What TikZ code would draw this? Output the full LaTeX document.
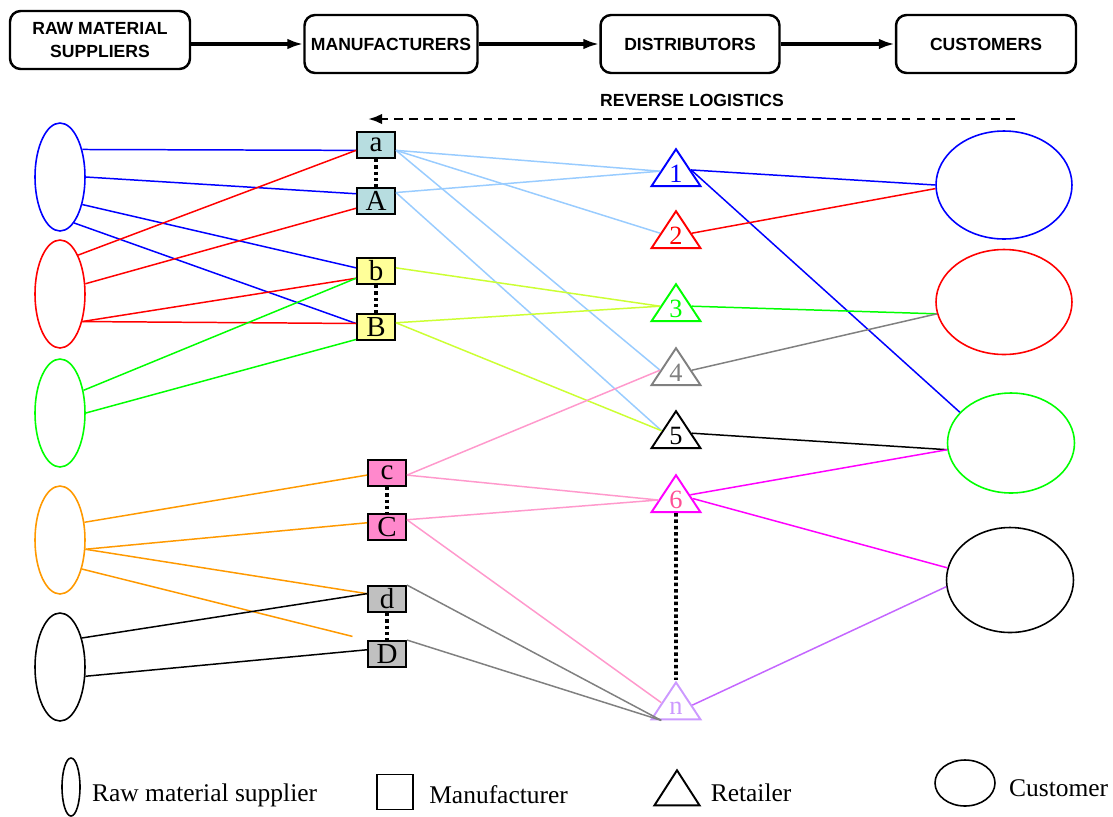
\documentclass[tikz,border=0pt]{standalone}
\usepackage{fontspec}
\setmainfont{Liberation Serif}
\newfontfamily\headfont{Liberation Sans}
\usetikzlibrary{shapes.geometric,positioning,arrows.meta}

\definecolor{rblue}{RGB}{0,0,255}
\definecolor{rred}{RGB}{255,0,0}
\definecolor{rgreen}{RGB}{0,255,0}
\definecolor{rorange}{RGB}{255,153,0}
\definecolor{rgray}{RGB}{128,128,128}
\definecolor{rmagenta}{RGB}{255,0,255}
\definecolor{rpurple}{RGB}{204,153,255}
\definecolor{rviolet}{RGB}{196,102,255}
\definecolor{mlblue}{RGB}{153,204,255}
\definecolor{myellow}{RGB}{204,255,51}
\definecolor{mpink}{RGB}{255,153,204}
\definecolor{fillA}{RGB}{183,221,224}
\definecolor{fillB}{RGB}{255,255,153}
\definecolor{fillC}{RGB}{255,136,204}
\definecolor{fillD}{RGB}{192,192,192}
\definecolor{sixtext}{RGB}{255,80,150}

\begin{document}
\begin{tikzpicture}[x=0.02cm, y=-0.02cm,
  headbox/.style={draw, rounded corners=6pt, line width=1.4pt, minimum height=1.16cm, align=center, font=\headfont\bfseries\fontsize{10}{13.5}\selectfont},
  flow/.style={line width=2.2pt, -{Latex[length=9pt,width=6pt]}},
  supplier/.style={draw=#1, ellipse, minimum width=1cm, minimum height=2.16cm, inner sep=0pt, line width=0.9pt},
  manuf/.style={draw, fill=#1, minimum width=0.76cm, minimum height=0.52cm, inner sep=0pt, line width=1.1pt, font=\fontsize{16.5}{16.5}\selectfont},
  retailer/.style={draw=#1, text=#1, isosceles triangle, shape border rotate=90, isosceles triangle stretches, minimum width=0.98cm, minimum height=0.74cm, inner sep=0pt, line width=1.1pt, font=\fontsize{15}{15}\selectfont},
  customer/.style={draw=#1, ellipse, minimum width=2.72cm, minimum height=2.16cm, inner sep=0pt, line width=0.9pt},
  link/.style={line width=0.85pt},
  dotlink/.style={line width=2pt, dash pattern=on 2pt off 1.6pt},
  legtext/.style={inner sep=0pt, font=\fontsize{14.5}{16}\selectfont}]
\useasboundingbox (0,0) rectangle (1113,816);

% top row
\node[headbox, minimum width=3.6cm] (h1) at (100,40) {RAW MATERIAL\\SUPPLIERS};
\node[headbox, minimum width=3.46cm] (h2) at (391,44) {MANUFACTURERS};
\node[headbox, minimum width=3.58cm] (h3) at (690,44) {DISTRIBUTORS};
\node[headbox, minimum width=3.6cm] (h4) at (986,44) {CUSTOMERS};
\draw[flow] (h1.east |- h2.west) -- (h2.west);
\draw[flow] (h2) -- (h3);
\draw[flow] (h3) -- (h4);

\node[font=\headfont\bfseries\fontsize{10}{12}\selectfont] (rl) at (692,100) {REVERSE LOGISTICS};
\coordinate (rlA) at (1015,119);
\coordinate (rlB) at (368,119);
\draw[line width=1.5pt, dash pattern=on 5pt off 3.5pt, -{Latex[length=8pt,width=6pt]}] (rlA) -- (rlB);

% suppliers
\node[supplier=rblue] (s1) at (60,177) {};
\node[supplier=rred] (s2) at (60,294) {};
\node[supplier=rgreen] (s3) at (60,413) {};
\node[supplier=rorange] (s4) at (60,540) {};
\node[supplier=black] (s5) at (60,667) {};

% manufacturers
\node[manuf=fillA] (ma) at (376,145) {a};
\node[manuf=fillA] (mA) at (376,201) {A};
\node[manuf=fillB] (mb) at (376,271) {b};
\node[manuf=fillB] (mB) at (376,327) {B};
\node[manuf=fillC] (mc) at (387,473) {c};
\node[manuf=fillC] (mC) at (387,527) {C};
\node[manuf=fillD] (md) at (387,599) {d};
\node[manuf=fillD] (mD) at (387,654) {D};

% retailers
\node[retailer=rblue] (t1) at (676,174) {1};
\node[retailer=rred] (t2) at (676,236) {2};
\node[retailer=rgreen] (t3) at (676,309) {3};
\node[retailer=rgray] (t4) at (676,373) {4};
\node[retailer=black] (t5) at (676,436) {5};
\node[retailer=rmagenta, text=sixtext] (t6) at (676,500) {6};
\node[retailer=rpurple] (tn) at (676,708) {n};

% customers
\node[customer=rblue] (c1) at (1004,185) {};
\node[customer=rred, minimum height=2.1cm] (c2) at (1004,302) {};
\node[customer=rgreen, minimum width=2.54cm, minimum height=2cm] (c3) at (1011,443) {};
\node[customer=black, minimum width=2.54cm, minimum height=2.1cm] (c4) at (1010,580) {};

\foreach \u/\l in {ma/mA,mb/mB,mc/mC,md/mD,t6/tn}
  \draw[dotlink] (\u.south) -- (\l.north);

% suppliers to manufacturers
\foreach \a/\b in {s1.51/ma.195, s1.0/mA.160, s1.-51/mb.171, s1.-73/mB.170}
  \draw[link, rblue] (\a) -- (\b);
\foreach \a/\b in {s2.65/ma.195, s2.22/mA.200, s2.-51/mb.200, s2.-51/mB.170}
  \draw[link, rred] (\a) -- (\b);
\foreach \a/\b in {s3.44/mb.200, s3.0/mB.212}
  \draw[link, rgreen] (\a) -- (\b);
\foreach \a/\b in {s4.36/mc.186, s4.-20/mC.168, s4.-20/md.165}
  \draw[link, rorange] (\a) -- (\b);
\draw[link, rorange, shorten >=0.3cm] (s4.-53) -- (mD.north west);
\foreach \a/\b in {s5.53/md.165, s5.-20/mD.168}
  \draw[link] (\a) -- (\b);

% manufacturers to retailers
\foreach \a/\b in {ma.-15/t1.170, ma.-15/t2.170, ma.-15/t4.170, mA.23/t1.170, mA.23/t5.160}
  \draw[link, mlblue] (\a) -- (\b);
\foreach \a/\b in {mb.9/t3.170, mB.12/t3.170, mB.12/t5.160}
  \draw[link, myellow] (\a) -- (\b);
\foreach \a/\b in {mc.-6/t4.170, mc.-6/t6.180, mC.20/t6.180, mC.20/tn.160}
  \draw[link, mpink] (\a) -- (\b);
\foreach \a/\b in {md.north east/tn.220, mD.north east/tn.220}
  \draw[link, rgray] (\a) -- (\b);

% retailers to customers
\draw[link, rblue] (t1.15) -- (c1.west);
\draw[link, rblue] (t1.15) -- (c3.149);
\draw[link, rred] (t2.10) -- (c1.183);
\draw[link, rgreen] (t3.10) -- (c2.190);
\draw[link, rgray] (t4.10) -- (c2.190);
\draw[link] (t5.10) -- (c3.186);
\draw[link, rmagenta] (t6.20) -- (c3.186);
\draw[link, rmagenta] (t6.5) -- (c4.169);
\draw[link, rviolet] (tn.10) -- (c4.186);

% legend
\node[supplier=black, minimum width=0.36cm, minimum height=1.16cm] (ls) at (71,787) {};
\node[legtext, right=0.22cm of ls, yshift=-0.17cm] (lst) {Raw material supplier};
\node[manuf=white, minimum width=0.72cm, minimum height=0.7cm] (lm) at (395,792) {};
\node[legtext, right=0.3cm of lm, yshift=-0.05cm] (lmt) {Manufacturer};
\node[retailer=black, minimum width=0.9cm, minimum height=0.7cm] (lr) at (677,793) {};
\node[legtext, right=0.35cm of lr] (lrt) {Retailer};
\node[customer=black, minimum width=1.2cm, minimum height=0.92cm] (lc) at (965,783) {};
\node[legtext, right=0.26cm of lc, yshift=-0.1cm] (lct) {Customer};
\end{tikzpicture}
\end{document}
